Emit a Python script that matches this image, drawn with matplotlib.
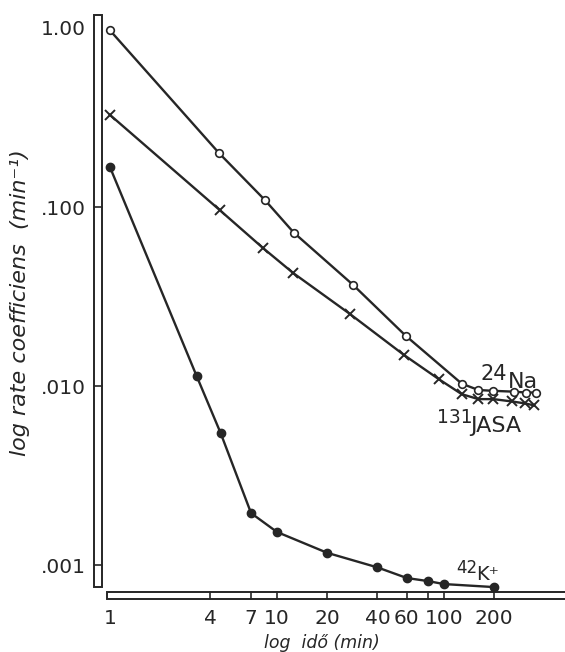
import matplotlib
matplotlib.use("Agg")
import matplotlib.pyplot as plt
from matplotlib.patches import Rectangle
from matplotlib.transforms import blended_transform_factory
from matplotlib.ticker import NullLocator

# values (time in min, rate coefficient in 1/min)
na_t = [1, 4.5, 8.5, 12.6, 28.5, 59, 128, 161, 198, 262, 309, 356]
na_k = [0.97, 0.20, 0.109, 0.072, 0.0368, 0.0191, 0.0103, 0.0095, 0.0094, 0.0093, 0.0092, 0.0092]

jasa_t = [1, 4.55, 8.25, 12.5, 27.3, 57.7, 93.5, 128, 161, 198, 255, 305, 346]
jasa_k = [0.327, 0.096, 0.059, 0.0428, 0.0253, 0.0149, 0.0109, 0.0090, 0.00845, 0.00845, 0.0082, 0.0080, 0.0078]

k_t = [1, 3.3, 4.6, 7, 10, 20, 40, 60, 80, 100, 200]
k_k = [0.167, 0.0114, 0.00546, 0.00195, 0.00153, 0.00117, 0.00097, 0.000846, 0.000814, 0.000783, 0.000753]

xticks = [1, 4, 7, 10, 20, 40, 60, 80, 100, 200]
xticklabels = ['1', '4', '7', '10', '20', '40', '60', '', '100', '200']
yticks = [1.0, 0.1, 0.01, 0.001]
yticklabels = ['1.00', '.100', '.010', '.001']

ink = '#262626'
W, H = 565, 652

def fx(x):
    return x / W

def fy(y):
    return 1 - y / H

fig = plt.figure(figsize=(W / 100, H / 100), dpi=100)
ax = fig.add_axes([fx(104), fy(592), (565 - 104) / W, (592 - 14) / H])
ax.set_xscale('log')
ax.set_yscale('log')
ax.set_xlim(0.921, 531)
ax.set_ylim(0.000707, 1.197)
for s in ax.spines.values():
    s.set_visible(False)

ax.plot(na_t, na_k, '-o', color=ink, lw=1.7, ms=5.5, mfc='white', mec=ink, mew=1.2, clip_on=False)
ax.plot(jasa_t, jasa_k, '-x', color=ink, lw=1.7, ms=6.5, mew=1.4, clip_on=False)
ax.plot(k_t, k_k, '-o', color=ink, lw=1.7, ms=6, mfc=ink, mec=ink, clip_on=False)

ax.xaxis.set_minor_locator(NullLocator())
ax.yaxis.set_minor_locator(NullLocator())
ax.set_xticks(xticks, xticklabels)
ax.set_yticks(yticks, yticklabels)
ax.tick_params(axis='x', length=0, pad=12, labelsize=14.5, colors=ink)
ax.tick_params(axis='y', length=0, pad=13, labelsize=14.5, colors=ink)

# double-line axes drawn as thin open bars
bx = blended_transform_factory(ax.transData, ax.transAxes)
by = blended_transform_factory(ax.transAxes, ax.transData)
bar_h = 7 / 578
ax.add_patch(Rectangle(((107 - 104) / 461, -bar_h), 1.02, bar_h, transform=ax.transAxes,
                       fc='white', ec=ink, lw=1.4, clip_on=False))
for t in xticks[1:]:
    ax.plot([t, t], [-bar_h, 0], color=ink, lw=1.2, transform=bx, clip_on=False)

bar_w = 8 / 461
ax.add_patch(Rectangle((-10 / 461, 5 / 578), bar_w, 572 / 578, transform=ax.transAxes,
                       fc='white', ec=ink, lw=1.4, clip_on=False))
for v in yticks[1:]:
    ax.plot([-10 / 461, -2 / 461], [v, v], color=ink, lw=1.2, transform=by, clip_on=False)

fig.text(fx(322), fy(643), 'log  idő (min)', style='italic', fontsize=12.5,
         ha='center', va='center', color=ink)
fig.text(fx(20), fy(303), 'log rate coefficiens  (min⁻¹)', style='italic', fontsize=16,
         rotation=90, ha='center', va='center', color=ink)

fig.text(fx(480), fy(380), '24', fontsize=15, color=ink, va='baseline')
fig.text(fx(508), fy(388), 'Na', fontsize=16, color=ink, va='baseline')
fig.text(fx(437), fy(423), '131', fontsize=13.5, color=ink, va='baseline')
fig.text(fx(470), fy(432), 'JASA', fontsize=16, color=ink, va='baseline')
fig.text(fx(456), fy(573), '42', fontsize=12, color=ink, va='baseline')
fig.text(fx(476), fy(580), 'K⁺', fontsize=14, color=ink, va='baseline')

fig.savefig('out.png', dpi=100, facecolor='white')
